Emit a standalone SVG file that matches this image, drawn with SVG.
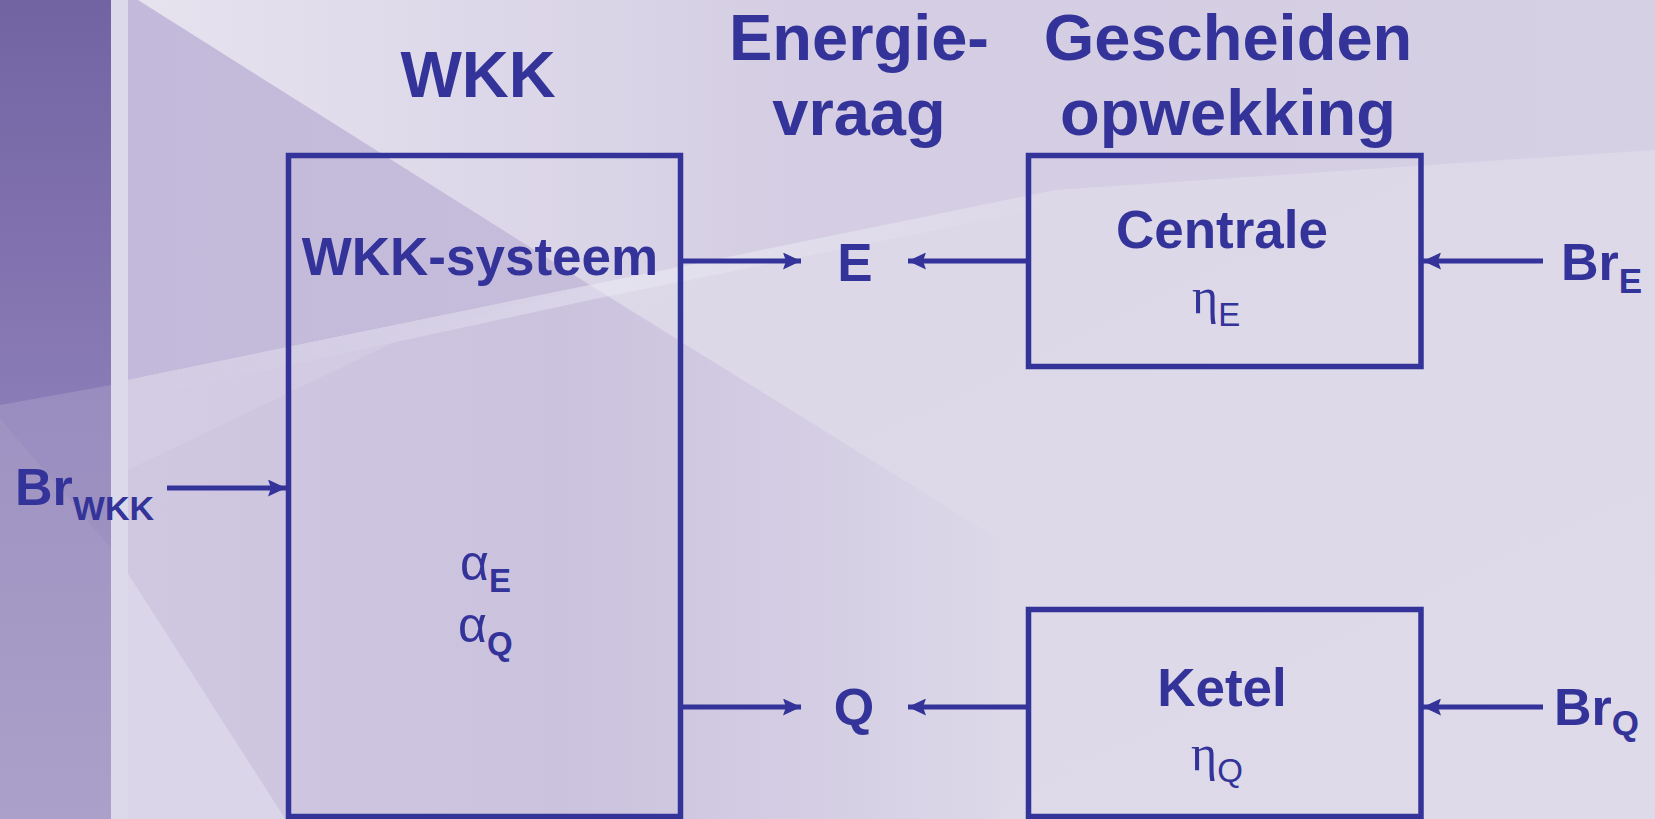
<svg xmlns="http://www.w3.org/2000/svg" width="1655" height="819" viewBox="0 0 1655 819">
<defs>
<linearGradient id="strip" x1="0" y1="0" x2="0" y2="1">
<stop offset="0" stop-color="#7263a3"/>
<stop offset="0.5" stop-color="#8a7cb6"/>
<stop offset="1" stop-color="#a99ec8"/>
</linearGradient>
<linearGradient id="top" x1="0" y1="0" x2="1" y2="0">
<stop offset="0" stop-color="#e6e3ef"/>
<stop offset="0.45" stop-color="#d4cde3"/>
<stop offset="1" stop-color="#d6d0e4"/>
</linearGradient>
<linearGradient id="right" x1="0" y1="0" x2="1" y2="1">
<stop offset="0" stop-color="#e6e3ef"/>
<stop offset="0.4" stop-color="#dcd8e8"/>
<stop offset="1" stop-color="#dedae9"/>
</linearGradient>
<linearGradient id="dark" x1="0" y1="0" x2="1" y2="0">
<stop offset="0" stop-color="#c3b9da"/>
<stop offset="1" stop-color="#c6bddb"/>
</linearGradient>
<linearGradient id="mid" gradientUnits="userSpaceOnUse" x1="128" y1="0" x2="1000" y2="0">
<stop offset="0" stop-color="#d0c8e1"/>
<stop offset="0.5" stop-color="#cbc3de"/>
<stop offset="0.75" stop-color="#d3cce3"/>
<stop offset="1" stop-color="#dcd8e8"/>
</linearGradient>
<linearGradient id="glow" x1="0" y1="0" x2="1" y2="0">
<stop offset="0" stop-color="#f0eef7" stop-opacity="0"/>
<stop offset="0.5" stop-color="#f0eef7" stop-opacity="0.6"/>
<stop offset="1" stop-color="#f0eef7" stop-opacity="0"/>
</linearGradient>
<marker id="ah" viewBox="0 0 18 17" refX="18" refY="8.5" markerWidth="18" markerHeight="17" markerUnits="userSpaceOnUse" orient="auto">
<path d="M0,0 L18,8.5 L0,17 L3,8.5 z" fill="#333399"/>
</marker>
</defs>
<style>
.t{font-family:"Liberation Sans",Arial,sans-serif;font-weight:bold;fill:#333399}
.g{font-family:"Liberation Serif","DejaVu Serif",serif;font-weight:normal;fill:#333399}
.a{font-family:"Liberation Sans",Arial,sans-serif;font-weight:normal;fill:#333399}
.s{font-family:"Liberation Sans",Arial,sans-serif;font-weight:normal;fill:#333399}
.b{font-family:"Liberation Sans",Arial,sans-serif;font-weight:bold;fill:#333399}
.box{fill:none;stroke:#333399;stroke-width:5.5}
.c{fill:none;stroke:#333399;stroke-width:5;marker-end:url(#ah)}
</style>
<g id="background">
<rect x="0" y="0" width="1655" height="819" fill="url(#right)"/>
<polygon points="138,0 1655,0 1655,150 1055,190 590,285" fill="url(#top)"/>
<polygon points="128,0 138,0 590,285 128,380" fill="url(#dark)"/>
<polygon points="128,380 590,285 1000,540 1000,819 285,819 128,574" fill="url(#mid)"/>
<polygon points="128,574 285,819 128,819" fill="#dbd5e9"/>
<polygon points="128,380 590,285 1060,190 1060,205 590,300 128,400" fill="url(#glow)" opacity="0.7"/>
<polygon points="128,380 128,470 420,330 590,285" fill="#d6cfe5" opacity="0.5"/>
<rect x="0" y="0" width="111" height="819" fill="url(#strip)"/>
<polygon points="0,405 111,385 111,548 0,418" fill="#a095c3" opacity="0.7"/>
<polygon points="0,418 111,548 111,819 0,819" fill="#aca1ca" opacity="0.6"/>
<rect x="111" y="0" width="17" height="819" fill="#dcd9ea"/>
</g>
<g id="titles">
<text class="t" x="478" y="97" font-size="65" text-anchor="middle">WKK</text>
<text class="t" x="859" y="60" font-size="65" text-anchor="middle">Energie-</text>
<text class="t" x="859" y="135" font-size="65" text-anchor="middle">vraag</text>
<text class="t" x="1228" y="60" font-size="65" text-anchor="middle">Gescheiden</text>
<text class="t" x="1228" y="135" font-size="65" text-anchor="middle">opwekking</text>
</g>
<g id="node-wkk">
<rect class="box" x="288.5" y="155.5" width="392" height="661"/>
<text class="t" x="480" y="275" font-size="53" text-anchor="middle">WKK-systeem</text>
<text x="460" y="580"><tspan class="a" font-size="50">α</tspan><tspan class="b" font-size="33" dy="12">E</tspan></text>
<text x="458" y="642"><tspan class="a" font-size="50">α</tspan><tspan class="b" font-size="33" dy="13">Q</tspan></text>
</g>
<g id="node-centrale">
<rect class="box" x="1028.5" y="155.5" width="392.5" height="211"/>
<text class="t" x="1222" y="248" font-size="53" text-anchor="middle">Centrale</text>
<text x="1192" y="313"><tspan class="g" font-size="50">η</tspan><tspan class="s" font-size="33" dy="13">E</tspan></text>
</g>
<g id="node-ketel">
<rect class="box" x="1028.5" y="609.5" width="392.5" height="207"/>
<text class="t" x="1222" y="706" font-size="53" text-anchor="middle">Ketel</text>
<text x="1191" y="770"><tspan class="g" font-size="50">η</tspan><tspan class="s" font-size="33" dy="12">Q</tspan></text>
</g>
<g id="node-e">
<text class="t" x="855" y="281" font-size="53" text-anchor="middle">E</text>
</g>
<g id="node-q">
<text class="t" x="854" y="725" font-size="52" text-anchor="middle">Q</text>
</g>
<g id="node-brwkk">
<text class="t" x="15" y="505" font-size="52">Br<tspan font-size="34" dy="15">WKK</tspan></text>
</g>
<g id="node-bre">
<text class="t" x="1561" y="280" font-size="52">Br<tspan font-size="35" dy="13">E</tspan></text>
</g>
<g id="node-brq">
<text class="t" x="1554" y="725" font-size="52">Br<tspan font-size="35" dy="10">Q</tspan></text>
</g>
<g id="connectors">
<path class="c" d="M683,261 L801,261"/>
<path class="c" d="M1026,261 L908,261"/>
<path class="c" d="M1543,261 L1423,261"/>
<path class="c" d="M683,707 L801,707"/>
<path class="c" d="M1026,707 L908,707"/>
<path class="c" d="M1543,707 L1423,707"/>
<path class="c" d="M167,488 L286,488"/>
</g>
</svg>
